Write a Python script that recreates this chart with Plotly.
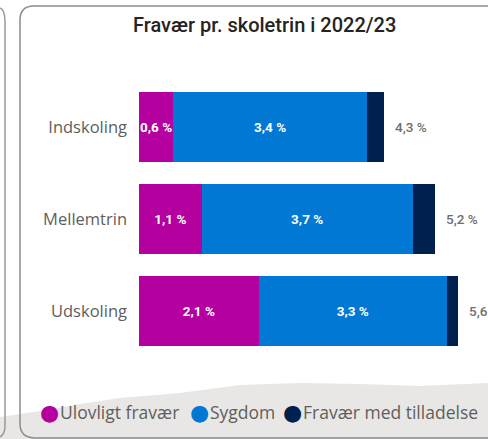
import plotly.graph_objects as go

categories = ["Indskoling", "Mellemtrin", "Udskoling"]
ulovligt = [0.6, 1.1, 2.1]
sygdom = [3.4, 3.7, 3.3]
tilladelse = [0.3, 0.4, 0.2]
totals = [4.3, 5.2, 5.6]

series_names = ["Ulovligt fravær", "Sygdom", "Fravær med tilladelse"]
colors = ["#B4009E", "#0078D4", "#002050"]

W, H = 488, 439
L, R, T, B = 139, 0, 81, 82


def px(x):
    return (x - L) / (W - L - R)


def py(y):
    return 1 - (y - T) / (H - T - B)


def pct(v):
    return f"{v:.1f} %".replace(".", ",")


fig = go.Figure()

for name, vals, col, show in zip(series_names, [ulovligt, sygdom, tilladelse], colors,
                                 [True, True, False]):
    fig.add_trace(go.Bar(
        x=vals,
        y=categories,
        orientation="h",
        name=name,
        marker=dict(color=col, line=dict(width=0)),
        text=[pct(v) for v in vals] if show else None,
        textposition="inside" if show else "none",
        insidetextanchor="middle",
        textangle=0,
        textfont=dict(family="Roboto", size=13.5, color="white", weight="bold"),
        showlegend=False,
        hoverinfo="skip",
    ))

annotations = []
for cat, tot in zip(categories, totals):
    annotations.append(dict(
        x=tot, y=cat, xref="x", yref="y",
        text=pct(tot), showarrow=False,
        xanchor="left", xshift=9,
        font=dict(family="Roboto", size=13.5, color="#6e6e6e", weight=500),
    ))

annotations.append(dict(
    x=px(264), y=py(25), xref="paper", yref="paper",
    text="Fravær pr. skoletrin i 2022/23", showarrow=False,
    xanchor="center", yanchor="middle",
    font=dict(family="Roboto", size=20, color="#252423", weight=500),
))

# legend: dot + label per series
legend_dot_x = [49, 199, 292]
for n, c, dx in zip(series_names, colors, legend_dot_x):
    annotations.append(dict(
        x=px(dx), y=py(412), xref="paper", yref="paper",
        text="●", showarrow=False, xanchor="center", yanchor="middle",
        font=dict(family="DejaVu Sans", size=22, color=c),
    ))
    annotations.append(dict(
        x=px(dx + 9), y=py(412), xref="paper", yref="paper",
        text=n, showarrow=False, xanchor="left", yanchor="middle",
        font=dict(family="Open Sans", size=17.5, color="#605e5c"),
    ))

gray_pts = [(0, 417), (40, 411), (80, 404), (120, 398), (180, 393), (240, 385),
            (300, 383), (360, 384), (420, 386), (488, 383), (488, 439), (0, 439)]
gray_path = "M " + " L ".join(f"{px(x)},{py(y)}" for x, y in gray_pts) + " Z"

left_card = (f"M {px(0)},{py(8)} Q {px(5)},{py(10)} {px(5)},{py(22)} "
             f"L {px(5)},{py(426)} Q {px(5)},{py(434)} {px(0)},{py(437)}")
main_card = (f"M {px(488)},{py(6)} L {px(34)},{py(6)} Q {px(20)},{py(6)} {px(20)},{py(20)} "
             f"L {px(20)},{py(424)} Q {px(20)},{py(437)} {px(34)},{py(438)} L {px(488)},{py(438)}")

shapes = [
    dict(type="path", xref="paper", yref="paper", path=gray_path,
         fillcolor="#e9e7e5", line=dict(width=0), layer="below"),
    dict(type="path", xref="paper", yref="paper", path=left_card,
         line=dict(color="#9a9a9a", width=1.5), layer="below"),
    dict(type="path", xref="paper", yref="paper", path=main_card,
         line=dict(color="#8c8c8c", width=1.5), layer="below"),
]

fig.update_layout(
    width=W, height=H,
    margin=dict(l=L, r=R, t=T, b=B),
    barmode="stack",
    bargap=0.23,
    paper_bgcolor="white",
    plot_bgcolor="rgba(0,0,0,0)",
    showlegend=False,
    uniformtext=dict(minsize=13.5, mode="show"),
    annotations=annotations,
    shapes=shapes,
    xaxis=dict(range=[0, (W - L - R) / 57.0], visible=False, fixedrange=True),
    yaxis=dict(
        categoryorder="array", categoryarray=categories, autorange="reversed",
        showgrid=False, zeroline=False, showline=False, ticks="",
        ticklabelstandoff=11,
        tickfont=dict(family="Open Sans", size=16.5, color="#605e5c"),
        fixedrange=True,
    ),
)

fig.write_html(
    "out.html",
    config={"displayModeBar": False},
    post_script="document.body.style.margin='0';document.body.style.overflow='hidden';",
)
